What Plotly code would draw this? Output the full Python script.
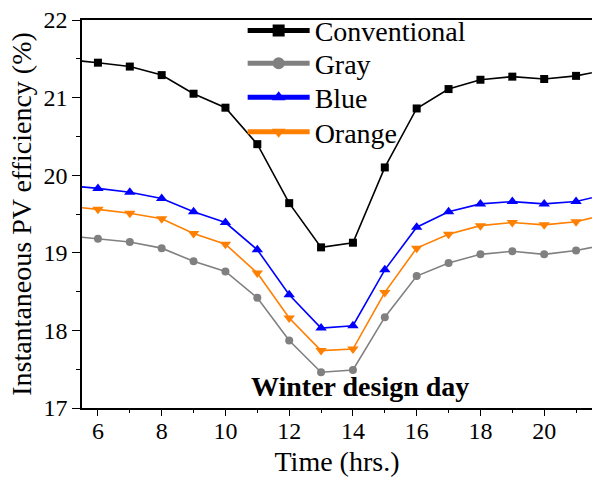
import plotly.graph_objects as go

hours = [5, 6, 7, 8, 9, 10, 11, 12, 13, 14, 15, 16, 17, 18, 19, 20, 21, 22]
conventional = [21.49, 21.45, 21.40, 21.29, 21.05, 20.87, 20.40, 19.64, 19.07, 19.13,
                20.10, 20.86, 21.11, 21.23, 21.27, 21.24, 21.28, 21.36]
gray = [19.22, 19.18, 19.14, 19.06, 18.89, 18.76, 18.42, 17.87, 17.46, 17.49,
        18.17, 18.70, 18.87, 18.98, 19.02, 18.98, 19.03, 19.11]
blue = [19.87, 19.83, 19.78, 19.70, 19.53, 19.39, 19.04, 18.46, 18.03, 18.06,
        18.78, 19.33, 19.53, 19.63, 19.66, 19.63, 19.66, 19.76]
orange = [19.60, 19.56, 19.51, 19.44, 19.25, 19.11, 18.74, 18.16, 17.74, 17.76,
          18.49, 19.06, 19.24, 19.35, 19.39, 19.36, 19.40, 19.50]

x_ticks = [6, 8, 10, 12, 14, 16, 18, 20]
y_ticks = [17, 18, 19, 20, 21, 22]

series = [
    ("Conventional", conventional, "#000000", "square", 8, 0.972),
    ("Gray", gray, "#808080", "circle", 8, 0.888),
    ("Blue", blue, "#0000ff", "triangle-up", 10, 0.800),
    ("Orange", orange, "#ff7f00", "triangle-down", 10, 0.711),
]

FONT = "Liberation Serif"
fig = go.Figure()
layout_legends = {}
for i, (name, vals, color, sym, msize, ly) in enumerate(series):
    key = "legend" if i == 0 else f"legend{i+1}"
    fig.add_trace(go.Scatter(
        x=hours, y=vals, name=name, mode="lines+markers",
        line=dict(color=color, width=1.6),
        marker=dict(symbol=sym, size=msize, color=color),
        legend=key,
    ))
    layout_legends[key] = dict(
        x=0.315, y=ly, xanchor="left", yanchor="middle",
        bgcolor="rgba(0,0,0,0)", font=dict(family=FONT, size=28),
        itemwidth=62, itemsizing="constant",
    )

fig.update_layout(
    width=592, height=481,
    margin=dict(l=82, r=0, t=20, b=73, autoexpand=False),
    paper_bgcolor="white", plot_bgcolor="white",
    font=dict(family=FONT, size=24, color="black"),
    showlegend=True,
    xaxis=dict(
        range=[5.5, 21.5], tickvals=x_ticks, ticktext=[str(v) for v in x_ticks],
        ticks="outside", ticklen=6, tickwidth=1.2, tickcolor="black",
        ticklabelstandoff=-6,
        minor=dict(dtick=1, tick0=5, ticks="outside", ticklen=3, tickcolor="black", tickwidth=1.2),
        showline=True, linecolor="black", linewidth=1.5, mirror=True,
        showgrid=False, zeroline=False, automargin=False,
        title=dict(text="Time (hrs.)", font=dict(family=FONT, size=28), standoff=9),
        tickfont=dict(family=FONT, size=24),
    ),
    yaxis=dict(
        range=[17, 22], tickvals=y_ticks, ticktext=[str(v) for v in y_ticks],
        ticks="outside", ticklen=8, tickwidth=1.2, tickcolor="black",
        minor=dict(dtick=0.5, tick0=17, ticks="outside", ticklen=4, tickcolor="black", tickwidth=1.2),
        showline=True, linecolor="black", linewidth=1.5, mirror=True,
        showgrid=False, zeroline=False, automargin=False,
        title=dict(text="Instantaneous PV efficiency (%)", font=dict(family=FONT, size=28), standoff=4),
        tickfont=dict(family=FONT, size=24),
    ),
    annotations=[dict(
        text="<b>Winter design day</b>", x=0.545, y=0.055, xref="paper", yref="paper",
        xanchor="center", yanchor="middle", showarrow=False,
        font=dict(family=FONT, size=28, color="black"),
    )],
    **layout_legends,
)

fig.write_html(
    "out.html",
    config={"displayModeBar": False},
    post_script="document.body.style.margin='0';document.body.style.overflow='hidden';",
)
